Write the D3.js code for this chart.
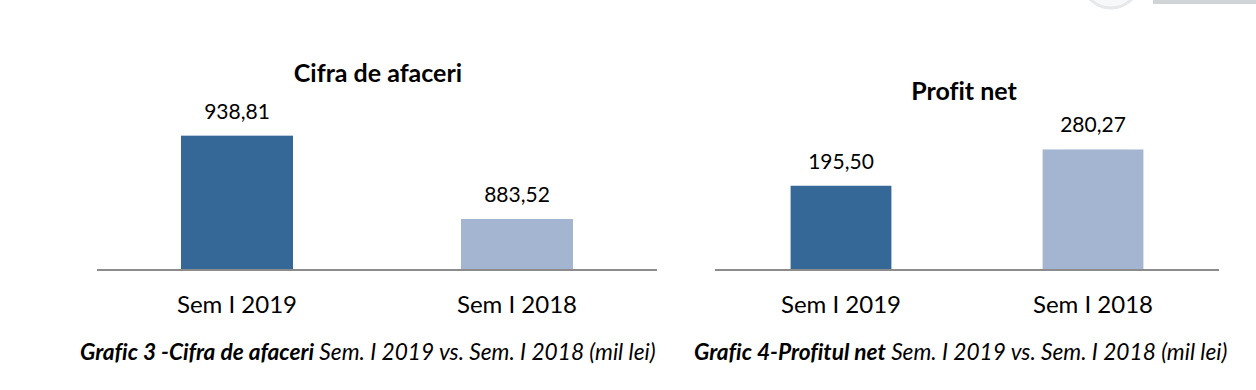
<!DOCTYPE html>
<html>
<head>
<meta charset="utf-8">
<script src="https://cdn.jsdelivr.net/npm/d3@7"></script>
<style>
  html, body { margin: 0; padding: 0; background: #fff; }
  svg { display: block; font-family: Lato, 'Open Sans', sans-serif; font-variant-ligatures: none; }
</style>
</head>
<body>
<svg id="chart" width="1256" height="390"></svg>
<script>
const categories = ['Sem I 2019', 'Sem I 2018']
const cifraValues = [938.81, 883.52]
const profitValues = [195.50, 280.27]
const barColors = ['#356797', '#a4b5d1']

const fmt = v => d3.format('.2f')(v).replace('.', ',')

const svg = d3.select('#chart')

// faded logo, cut off at the top edge
const logo = svg.append('g').attr('opacity', 0.4)
logo.append('circle').attr('cx', 1111).attr('cy', -21).attr('r', 29)
  .attr('fill', '#eceef1').attr('stroke', '#c3c7cd').attr('stroke-width', 3)
logo.append('circle').attr('cx', 1112).attr('cy', -21).attr('r', 17).attr('fill', '#6f8bb3')
logo.append('rect').attr('x', 1153).attr('y', 0).attr('width', 103).attr('height', 4).attr('fill', '#8f959c')

function barChart(opts) {
  const g = svg.append('g')
  const x = d3.scaleBand()
    .domain(categories)
    .range([opts.x0, opts.x1])
    .paddingInner(0.6)
    .paddingOuter(0.3)
  const y = d3.scaleLinear().domain(opts.domain).range([269.5, opts.yTop])

  g.selectAll('rect.bar')
    .data(opts.values)
    .join('rect')
    .attr('class', 'bar')
    .attr('x', (d, i) => x(categories[i]))
    .attr('width', x.bandwidth())
    .attr('y', d => y(d))
    .attr('height', d => y(opts.domain[0]) - y(d))
    .attr('fill', (d, i) => barColors[i])

  g.append('line')
    .attr('x1', opts.x0).attr('x2', opts.x1)
    .attr('y1', 270).attr('y2', 270)
    .attr('stroke', '#8c8c8c').attr('stroke-width', 2)

  g.selectAll('text.val')
    .data(opts.values)
    .join('text')
    .attr('class', 'val')
    .attr('x', (d, i) => x(categories[i]) + x.bandwidth() / 2)
    .attr('y', d => y(d) - 17)
    .attr('text-anchor', 'middle')
    .attr('font-size', 21)
    .attr('fill', '#000')
    .text(fmt)

  const axis = g.append('g')
    .attr('transform', 'translate(0,270)')
    .call(d3.axisBottom(x).tickSize(0).tickPadding(0))
  axis.select('.domain').remove()
  axis.selectAll('text')
    .attr('dy', null)
    .attr('y', 43)
    .attr('font-size', 24)
    .attr('font-family', 'Lato, sans-serif')
    .attr('fill', '#000')

  g.append('text')
    .attr('x', opts.titleX).attr('y', opts.titleY)
    .attr('text-anchor', 'middle')
    .attr('font-size', 25).attr('font-weight', 'bold')
    .text(opts.title)

  const cap = g.append('text')
    .attr('x', opts.capX).attr('y', 360)
    .attr('font-size', 22.7).attr('font-style', 'italic')
  cap.append('tspan').attr('font-weight', 'bold').text(opts.capBold)
  cap.append('tspan').text(opts.capRest)
}

barChart({
  x0: 97, x1: 657,
  domain: [850, 950], yTop: 118.8,
  values: cifraValues,
  title: 'Cifra de afaceri', titleX: 378, titleY: 82,
  capX: 80, capBold: 'Grafic 3 -Cifra de afaceri', capRest: ' Sem. I 2019 vs. Sem. I 2018 (mil lei)'
})

barChart({
  x0: 715, x1: 1219,
  domain: [0, 300], yTop: 141,
  values: profitValues,
  title: 'Profit net', titleX: 964, titleY: 100,
  capX: 694, capBold: 'Grafic 4-Profitul net', capRest: ' Sem. I 2019 vs. Sem. I 2018 (mil lei)'
})
</script>
</body>
</html>
